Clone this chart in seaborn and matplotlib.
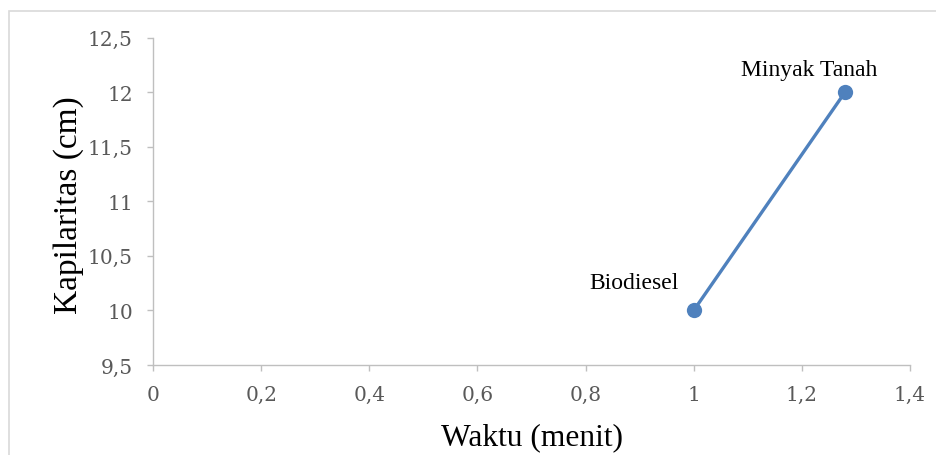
import matplotlib
matplotlib.use("Agg")
import matplotlib.pyplot as plt
import seaborn as sns
import pandas as pd
from matplotlib.patches import Rectangle

# Data
waktu = [1.0, 1.28]
kapilaritas = [10.0, 12.0]
labels = ["Biodiesel", "Minyak Tanah"]
x_ticks = [0, 0.2, 0.4, 0.6, 0.8, 1, 1.2, 1.4]
x_tick_labels = ["0", "0,2", "0,4", "0,6", "0,8", "1", "1,2", "1,4"]
y_ticks = [9.5, 10, 10.5, 11, 11.5, 12, 12.5]
y_tick_labels = ["9,5", "10", "10,5", "11", "11,5", "12", "12,5"]

df = pd.DataFrame({"Waktu": waktu, "Kapilaritas": kapilaritas, "Label": labels})

sns.set_theme(style="white")
plt.rcParams["font.family"] = ["Liberation Serif", "DejaVu Serif"]

fig = plt.figure(figsize=(9.36, 4.56), dpi=100)
ax = fig.add_axes([153 / 936, 1 - 366 / 456, (910 - 153) / 936, (366 - 38.5) / 456])

blue = "#4F81BD"
sns.lineplot(data=df, x="Waktu", y="Kapilaritas", ax=ax, color=blue, linewidth=2.4,
             marker="o", markersize=11, markeredgewidth=0, sort=False)

ax.set_xlim(0, 1.4)
ax.set_ylim(9.5, 12.5)
ax.set_xticks(x_ticks)
ax.set_xticklabels(x_tick_labels)
ax.set_yticks(y_ticks)
ax.set_yticklabels(y_tick_labels)

spine_col = "#BFBFBF"
for s in ["top", "right"]:
    ax.spines[s].set_visible(False)
for s in ["left", "bottom"]:
    ax.spines[s].set_color(spine_col)
    ax.spines[s].set_linewidth(1.0)
ax.tick_params(axis="both", which="major", direction="out", length=4.5, width=1.0,
               color=spine_col, left=True, bottom=True, labelsize=14.5,
               labelcolor="#595959", labelfontfamily="DejaVu Serif")
ax.tick_params(axis="x", pad=10)
ax.tick_params(axis="y", pad=10)
ax.grid(False)

ax.set_xlabel("Waktu (menit)", fontsize=22.7, color="black")
ax.set_ylabel("Kapilaritas (cm)", fontsize=24, color="black")
ax.xaxis.set_label_coords(532 / 936, 1 - 437.5 / 456, transform=fig.transFigure)
ax.xaxis.label.set_va("center")
ax.yaxis.set_label_coords(69 / 936, 1 - 205 / 456, transform=fig.transFigure)
ax.yaxis.label.set_va("center")

offsets = [(-15, 28), (-36, 23)]
aligns = ["right", "center"]
for (xx, yy, lab), off, ha in zip(zip(waktu, kapilaritas, labels), offsets, aligns):
    ax.annotate(lab, (xx, yy), xytext=off, textcoords="offset pixels",
                ha=ha, va="center", fontsize=17, color="black")

# Outer chart border
fig.patches.append(Rectangle((9 / 936, -0.05), 1.0, 1 - 11.5 / 456 + 0.05,
                             transform=fig.transFigure, fill=False,
                             edgecolor="#D9D9D9", linewidth=1.2, zorder=-1))

fig.savefig("out.png", dpi=100)
